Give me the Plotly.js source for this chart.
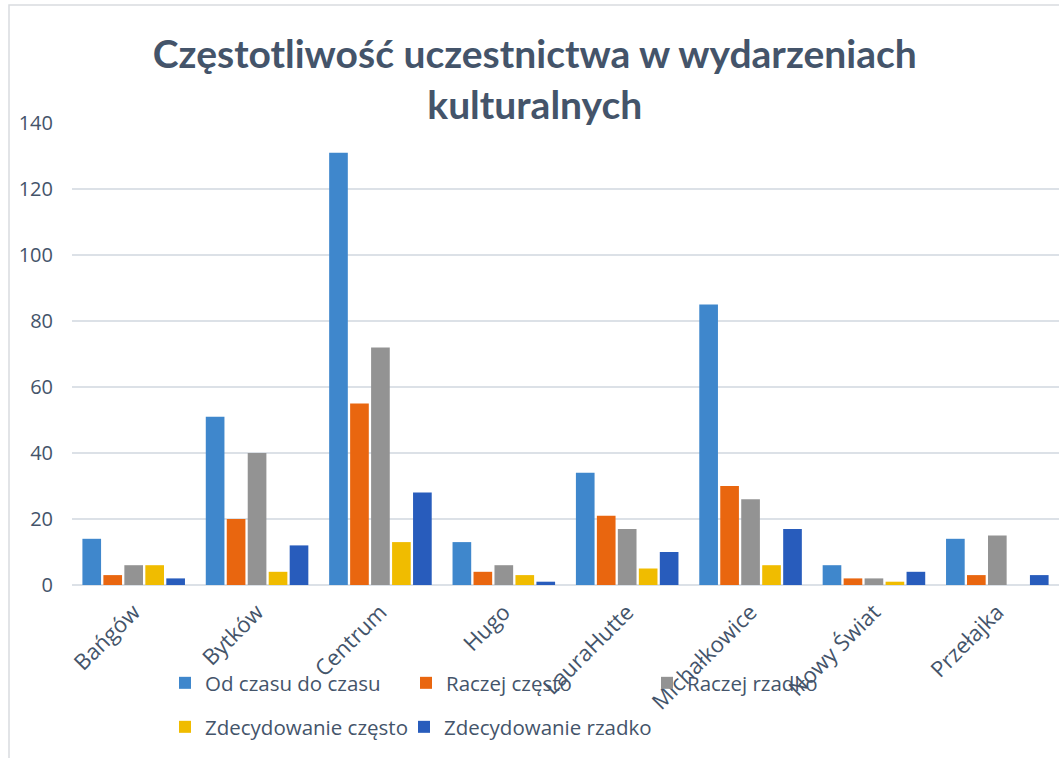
<!DOCTYPE html>
<html>
<head>
<meta charset="utf-8">
<script src="https://cdn.plot.ly/plotly-3.0.1.min.js"></script>
<style>html,body{margin:0;padding:0;background:#fff;}#chart{width:1059px;height:758px;}</style>
</head>
<body>
<div id="chart"></div>
<script>
const categories = ["Bańgów", "Bytków", "Centrum", "Hugo", "LauraHutte", "Michałkowice", "Nowy Świat", "Przełajka"];
const seriesNames = ["Od czasu do czasu", "Raczej często", "Raczej rzadko", "Zdecydowanie często", "Zdecydowanie rzadko"];
const odCzasuDoCzasu = [14, 51, 131, 13, 34, 85, 6, 14];
const raczejCzesto = [3, 20, 55, 4, 21, 30, 2, 3];
const raczejRzadko = [6, 40, 72, 6, 17, 26, 2, 15];
const zdecydowanieCzesto = [6, 4, 13, 3, 5, 6, 1, 0];
const zdecydowanieRzadko = [2, 12, 28, 1, 10, 17, 4, 3];
const yTicks = [0, 20, 40, 60, 80, 100, 120, 140];

const seriesValues = [odCzasuDoCzasu, raczejCzesto, raczejRzadko, zdecydowanieCzesto, zdecydowanieRzadko];
const colors = ["#3F87CC", "#E9660F", "#939393", "#F0BC00", "#285CBC"];
const legendIds = ["legend", "legend", "legend", "legend2", "legend3"];

const traces = seriesValues.map((vals, i) => ({
  type: "bar",
  name: seriesNames[i],
  x: categories,
  y: vals,
  marker: {color: colors[i], line: {width: 0}},
  legend: legendIds[i],
  hoverinfo: "x+y+name"
}));

const tickColor = "#44546A";
const legendCommon = {
  orientation: "h",
  xanchor: "left",
  yanchor: "middle",
  font: {family: "Open Sans, sans-serif", size: 20.5, color: tickColor},
  bgcolor: "rgba(0,0,0,0)",
  traceorder: "normal"
};
const row1 = Object.assign({entrywidth: 196, entrywidthmode: "pixels"}, legendCommon);

const layout = {
  width: 1059,
  height: 758,
  margin: {l: 72, r: 0, t: 123, b: 173},
  paper_bgcolor: "#ffffff",
  plot_bgcolor: "#ffffff",
  barmode: "group",
  bargap: 0.15,
  bargroupgap: 0.11,
  title: {
    text: "Częstotliwość uczestnictwa w wydarzeniach<br>kulturalnych",
    font: {family: "Lato, Open Sans, sans-serif", size: 39, color: "#44546A", weight: "bold"},
    x: 0.505,
    xanchor: "center",
    xref: "container",
    y: 1 - 68 / 758,
    yanchor: "top",
    yref: "container"
  },
  xaxis: {
    type: "category",
    tickangle: -45,
    tickfont: {family: "Open Sans, sans-serif", size: 22, color: tickColor},
    showgrid: false,
    showline: false,
    ticks: "",
    ticklabelstandoff: 9,
    fixedrange: true
  },
  yaxis: {
    range: [0, 140],
    tickvals: yTicks,
    tickfont: {family: "Open Sans, sans-serif", size: 20, color: tickColor},
    gridcolor: "#DCE1E7",
    gridwidth: 1.5,
    zeroline: true,
    zerolinecolor: "#DCE1E7",
    zerolinewidth: 1.5,
    showline: false,
    ticks: "",
    ticklabelstandoff: 18,
    fixedrange: true
  },
  legend: Object.assign({x: (165 - 72) / 987, y: (585 - 683) / 462}, row1),
  legend2: Object.assign({x: (165 - 72) / 987, y: (585 - 727) / 462}, legendCommon),
  legend3: Object.assign({x: (404 - 72) / 987, y: (585 - 727) / 462}, legendCommon),
  shapes: [{
    type: "rect",
    xref: "paper", yref: "paper",
    x0: (9 - 72) / 987, x1: 1.2,
    y0: -1, y1: (585 - 5) / 462,
    line: {color: "#D9DCE0", width: 1.5},
    fillcolor: "rgba(0,0,0,0)",
    layer: "below"
  }]
};

Plotly.newPlot("chart", traces, layout, {displayModeBar: false, staticPlot: true});
</script>
</body>
</html>
